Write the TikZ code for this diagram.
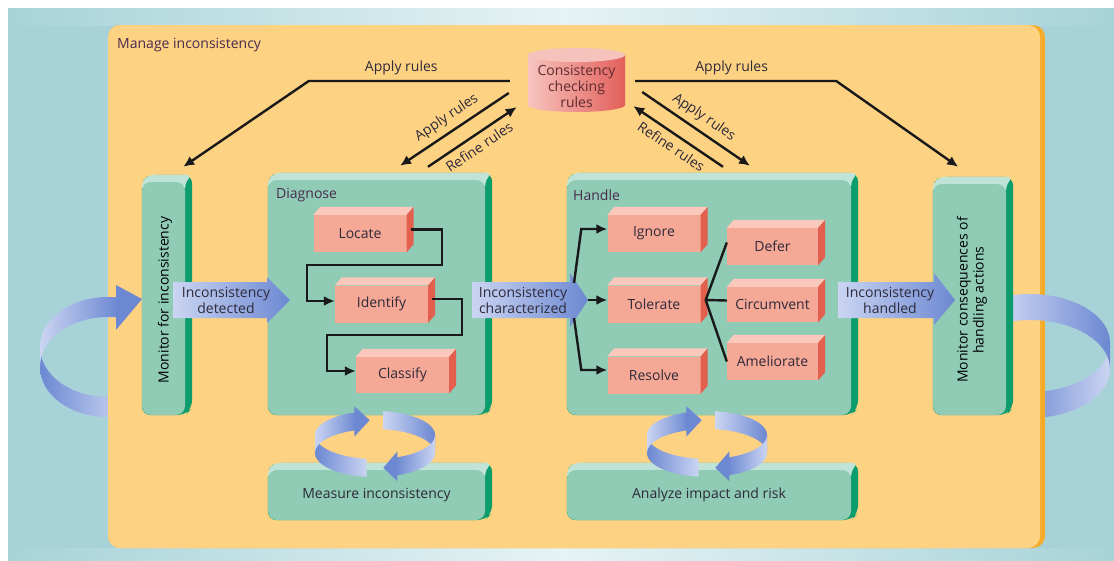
\documentclass[tikz,border=0pt]{standalone}
\usepackage{fontspec}
\setmainfont{Open Sans}
\usetikzlibrary{calc,arrows.meta}
\definecolor{bgteal}{HTML}{A7D3D8}
\definecolor{bglight}{HTML}{E6F3F4}
\definecolor{panel}{HTML}{FDD283}
\definecolor{panedge}{HTML}{F6AC2B}
\definecolor{gfront}{HTML}{8FCBB5}
\definecolor{gtop}{HTML}{BFE3D6}
\definecolor{gside}{HTML}{0D9C6C}
\definecolor{pfront}{HTML}{F5A896}
\definecolor{ptop}{HTML}{FAC9BB}
\definecolor{pside}{HTML}{E4604E}
\definecolor{cylL}{HTML}{F7C4BE}
\definecolor{cylR}{HTML}{E35E5A}
\definecolor{cyltop}{HTML}{F5C2BC}
\definecolor{bdark}{HTML}{6C88D2}
\definecolor{blight}{HTML}{CBD5F2}
\definecolor{tcol}{HTML}{2E2A3A}
\definecolor{ttl}{HTML}{4A2A4E}
\definecolor{cyltext}{HTML}{5E2B2E}
\pgfdeclarelayer{bg}\pgfdeclarelayer{depth}\pgfsetlayers{bg,depth,main}
\newcommand\fs{\fontsize{14pt}{16pt}\selectfont}
\newcommand\gdepth[1]{%
 \begin{pgfonlayer}{depth}
 \fill[gside,rounded corners=9pt] (#1.north west) -- ++(7,-7) -- ($(#1.north east)+(7,-7)$) -- ($(#1.south east)+(7,-7)$) -- (#1.south east) -- (#1.south west) -- cycle;
 \fill[gtop,rounded corners=6pt] ($(#1.north west)+(0,10)$) -- (#1.north west) -- ++(7,-7) -- ($(#1.north east)+(7,-7)$) -- (#1.north east) -- ($(#1.north east)+(0,10)$) -- cycle;
 \end{pgfonlayer}}
\newcommand\pdepth[1]{%
 \fill[ptop] (#1.north west) -- ++(7,-8) -- ($(#1.north east)+(7,-8)$) -- (#1.north east) -- cycle;
 \fill[pside] (#1.north east) -- ++(7,-8) -- ($(#1.south east)+(7,-8)$) -- (#1.south east) -- cycle;}
\newcommand\bandp[8]{%
 \shade[#8] plot[domain=#6:#7,samples=40] ({#1+#3*cos(\x)},{#2-#5+#4*sin(\x)}) -- plot[domain=#7:#6,samples=40] ({#1+#3*cos(\x)},{#2+#5+#4*sin(\x)}) -- cycle;}
\newcommand\rhead[8]{%
 \fill[bdark] ({#1+#3*cos(#6)},{#2-#5-#8+#4*sin(#6)}) -- ({#1+#3*cos(#7)},{#2+#4*sin(#7)}) -- ({#1+#3*cos(#6)},{#2+#5+#8+#4*sin(#6)}) -- cycle;}
\begin{document}
\begin{tikzpicture}[x=1pt,y=-1pt,
 txt/.style={text=tcol,font=\fs,inner sep=1pt},
 gbox/.style={fill=gfront,rounded corners=9pt,inner sep=0pt},
 pbox/.style={fill=pfront,inner sep=0pt,minimum width=93pt,minimum height=37pt,text=tcol,font=\fs},
 conn/.style={draw=black!90,line width=2.4pt,-{Latex[length=11pt,width=10pt]}},
 plainline/.style={draw=black!90,line width=2.4pt},
 bshade/.style={left color=blight,right color=bdark},
 lab/.style={text=tcol,font=\fs,inner sep=0.5pt}]
\useasboundingbox (0,0) rectangle (1114,560);
\begin{pgfonlayer}{bg}
 \fill[white] (0,0) rectangle (1114,560);
 \fill[bgteal] (8,8) rectangle (1114,560);
 \shade[left color=bgteal,right color=bgteal,middle color=bglight] (8,8) rectangle (1114,25);
 \shade[left color=bgteal,right color=bgteal,middle color=bglight] (8,548) rectangle (1114,560);
 \bandp{108}{357}{68}{50}{10}{75}{180}{left color=bdark,right color=blight}
 \bandp{1030}{356}{80}{49}{13}{0}{100}{left color=bdark,right color=blight}
 \fill[panedge,rounded corners=12pt] (108,25) rectangle (1045,548);
 \fill[panel,rounded corners=12pt] (108,25) rectangle (1040,548);
\end{pgfonlayer}
\begin{pgfonlayer}{depth}
 \bandp{1030}{356}{80}{49}{13}{250}{360}{left color=blight,right color=bdark}
\end{pgfonlayer}
\node[txt,text=ttl,anchor=west] (mtitle) at (116,45) {Manage inconsistency};
% green boxes
\node[gbox,minimum width=43pt,minimum height=233pt] (mon1) at (163.5,298.5) {};
\node[gbox,minimum width=217pt,minimum height=235pt] (diag) at (376.5,297.5) {};
\node[gbox,minimum width=284pt,minimum height=235pt] (handle) at (709,297.5) {};
\node[gbox,minimum width=73pt,minimum height=231pt] (mon2) at (969.5,299.5) {};
\node[gbox,minimum width=217pt,minimum height=50pt,text=tcol,font=\fs] (measure) at (376.5,495) {Measure inconsistency};
\node[gbox,minimum width=284pt,minimum height=50pt,text=tcol,font=\fs] (analyze) at (709,495) {Analyze impact and risk};
\gdepth{mon1}\gdepth{diag}\gdepth{handle}\gdepth{mon2}\gdepth{measure}\gdepth{analyze}
\node[txt,text=black,rotate=90] (mon1t) at (165,300) {Monitor for inconsistency};
\node[txt,text=black,rotate=90,align=center] (mon2t) at (972,300) {Monitor consequences of\\handling actions};
\node[txt,text=ttl,anchor=west] (diagt) at (275,195) {Diagnose};
\node[txt,text=ttl,anchor=west] (handt) at (572,195) {Handle};
% pink boxes
\node[pbox] (locate) at (360,233.5) {Locate};
\node[pbox] (identify) at (381.5,304) {Identify};
\node[pbox,minimum height=36pt] (classify) at (402.5,375) {Classify};
\node[pbox] (ignore) at (654,233.5) {Ignore};
\node[pbox] (tolerate) at (654,304) {Tolerate};
\node[pbox] (resolve) at (654,375) {Resolve};
\node[pbox,minimum width=91pt] (defer) at (772.5,246.5) {Defer};
\node[pbox,minimum width=91pt,minimum height=35pt] (circumvent) at (772.5,304.5) {Circumvent};
\node[pbox,minimum width=91pt] (ameliorate) at (772.5,361.5) {Ameliorate};
\pdepth{locate}\pdepth{identify}\pdepth{classify}\pdepth{ignore}\pdepth{tolerate}\pdepth{resolve}\pdepth{defer}\pdepth{circumvent}\pdepth{ameliorate}
% blue flow arrows
\shade[bshade] (173,282) -- (267,282) -- (267,277) -- (290,300) -- (267,323) -- (267,318) -- (173,318) -- cycle;
\node[txt,align=center] (det) at (226,300) {Inconsistency\\detected};
\shade[bshade] (472,282) -- (570,282) -- (570,273) -- (588,300) -- (570,327) -- (570,318) -- (472,318) -- cycle;
\node[txt,align=center] (charz) at (523,300) {Inconsistency\\characterized};
\coordinate (ctip) at (588,300);
\shade[bshade] (838,282) -- (934,282) -- (934,273) -- (955,300) -- (934,325) -- (934,318) -- (838,318) -- cycle;
\node[txt,align=center] (hand) at (890,300) {Inconsistency\\handled};
% diagnose connectors
\draw[conn] ($(locate.east)+(4,-4)$) -- ++(31,0) |- ($(identify.west)+(-28,-39)$) |- ($(identify.west)+(0,-3)$);
\draw[conn] ($(identify.east)+(4,-5)$) -- ++(30,0) |- ($(classify.west)+(-29,-40)$) |- ($(classify.west)+(0,-4)$);
% handle connectors
\draw[conn] ($(ctip)+(-14,-17)$) -- ($(ignore.west)+(-26,-4.5)$) -- ($(ignore.west)+(0,-4.5)$);
\draw[conn] (ctip) -- ($(tolerate.west)+(0,-4)$);
\draw[conn] ($(ctip)+(-14,18)$) -- ($(resolve.west)+(-26,-5)$) -- ($(resolve.west)+(0,-5)$);
\draw[plainline,line join=round] ($(defer.west)+(0,-4)$) -- ($(tolerate.east)+(5,-4)$) -- ($(circumvent.west)+(0,-4)$);
\draw[plainline] ($(tolerate.east)+(5,-4)$) -- (ameliorate.west);
% small rings
\bandp{375}{444}{60}{24}{9}{98}{180}{left color=bdark,right color=blight}
\bandp{375}{444}{60}{24}{9}{180}{252}{left color=blight,right color=bdark}
\rhead{375}{444}{60}{24}{9}{250}{265}{6}
\bandp{375}{444}{60}{24}{9}{278}{360}{left color=blight,right color=bdark}
\bandp{375}{444}{60}{24}{9}{0}{70}{left color=bdark,right color=blight}
\rhead{375}{444}{60}{24}{9}{68}{82}{6}
\bandp{707}{444}{60}{24}{9}{98}{180}{left color=bdark,right color=blight}
\bandp{707}{444}{60}{24}{9}{180}{252}{left color=blight,right color=bdark}
\rhead{707}{444}{60}{24}{9}{250}{265}{6}
\bandp{707}{444}{60}{24}{9}{278}{360}{left color=blight,right color=bdark}
\bandp{707}{444}{60}{24}{9}{0}{70}{left color=bdark,right color=blight}
\rhead{707}{444}{60}{24}{9}{68}{82}{6}
% big left ring, upper part
\bandp{108}{357}{68}{50}{10}{180}{279}{left color=blight,right color=bdark}
\fill[bdark] (116,285) -- (142,299) -- (116,330) -- cycle;
% cylinder
\shade[left color=cylL,right color=cylR] (528,55) -- plot[domain=180:0,samples=40] ({576.5+48.5*cos(\x)},{105+7*sin(\x)}) -- (625,55) -- cycle;
\fill[cyltop] (576.5,55) ellipse[x radius=48.5,y radius=7];
\node[text=cyltext,font=\fs,align=center,inner sep=0pt,minimum width=97pt,minimum height=52pt] (rules) at (576.5,86) {Consistency\\checking\\rules};
% rule connectors
\draw[conn] ($(rules.west)+(-18,-5)$) -- node[lab,pos=0.54,above=4pt]{Apply rules} ++(-201,0) -- ($(mon1.north east)+(-2,-15)$);
\draw[conn] ($(rules.west)+(-19,7)$) -- node[lab,sloped,above=5pt]{Apply rules} ($(diag.north)+(23.5,-14)$);
\draw[conn] ($(diag.north)+(51.5,-13)$) -- node[lab,sloped,below=5pt]{Refine rules} ($(rules.west)+(-11,21)$);
\draw[conn] ($(rules.east)+(10,-5)$) -- node[lab,pos=0.48,above=4pt]{Apply rules} ++(201,0) -- ($(mon2.north east)+(-48,-17)$);
\draw[conn] ($(rules.east)+(17,6)$) -- node[lab,sloped,above=5pt]{Apply rules} ($(handle.north)+(41,-14)$);
\draw[conn] ($(handle.north)+(14,-13)$) -- node[lab,sloped,below=5pt]{Refine rules} ($(rules.east)+(8,20)$);
\end{tikzpicture}
\end{document}
